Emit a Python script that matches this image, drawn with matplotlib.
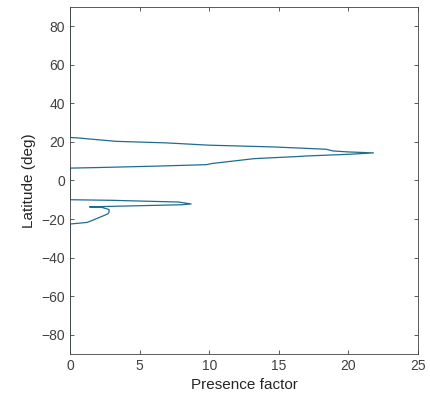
import matplotlib
matplotlib.use('Agg')
import matplotlib.pyplot as plt

plt.rcParams['font.family'] = ['Liberation Sans', 'DejaVu Sans']

# presence factor profile vs latitude, traced from bottom to top
presence = [0, 0, 1.2, 1.5, 1.9, 2.3, 2.7, 2.8, 2.8, 2.3, 1.4, 8.0, 8.7, 7.8, 3.0, 0,
            0, 2.0, 6.0, 9.8, 10.2, 13.2, 16.3, 17.0, 20.1, 21.8, 20.0, 18.9, 18.4,
            14.6, 10.0, 6.9, 3.3, 0.5, 0, 0]
latitude = [-90, -22.6, -21.8, -21.0, -19.8, -18.6, -17.4, -16.5, -15.1, -14.0, -13.7,
            -12.6, -12.2, -11.2, -10.3, -10.0,
            6.4, 6.7, 7.4, 8.2, 8.8, 11.3, 12.4, 12.7, 13.6, 14.3, 14.8, 15.3, 16.2,
            17.4, 18.3, 19.5, 20.3, 22.1, 22.3, 90]

xticks = [0, 5, 10, 15, 20, 25]
yticks = [-80, -60, -40, -20, 0, 20, 40, 60, 80]

fig = plt.figure(figsize=(4.3, 4.12), dpi=100)
ax = fig.add_axes([0.163, 0.141, 0.809, 0.842])

ax.plot(presence, latitude, color='#1f6d8e', linewidth=0.9)

ax.set_xlim(0, 25)
ax.set_ylim(-90, 90)
ax.set_xticks(xticks)
ax.set_yticks(yticks)
ax.tick_params(direction='in', top=True, right=True, labelsize=10,
               colors='#404040', length=3, width=0.6)
for s in ax.spines.values():
    s.set_color('#404040')
    s.set_linewidth(0.6)

ax.set_xlabel('Presence factor', fontsize=11, color='#262626')
ax.set_ylabel('Latitude (deg)', fontsize=11, color='#262626')

fig.savefig('out.png', dpi=100)
